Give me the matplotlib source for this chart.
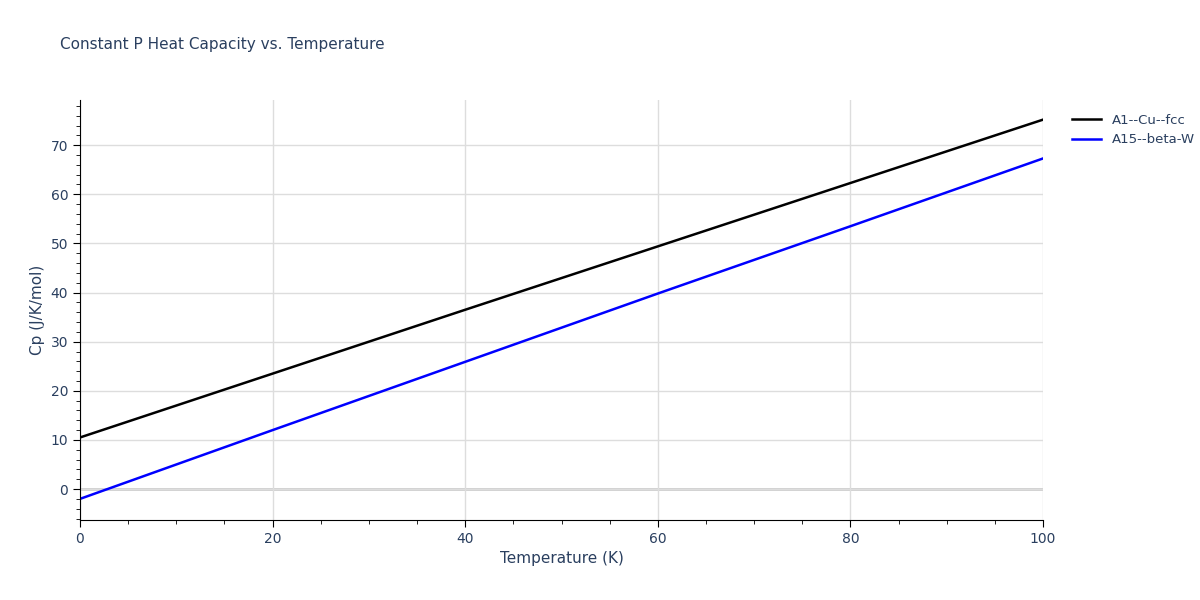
import matplotlib
matplotlib.use("Agg")
import matplotlib.pyplot as plt
from matplotlib.ticker import MultipleLocator

temps = [0, 20, 40, 60, 80, 100]
cu_fcc = [10.5, 23.5, 36.5, 49.4, 62.3, 75.2]
beta_w = [-2.0, 12.0, 25.9, 39.8, 53.5, 67.3]

fig = plt.figure(figsize=(12, 6), dpi=100)
ax = fig.add_axes([80/1200, 80/600, 963/1200, 420/600])
ax.plot(temps, cu_fcc, color="black", lw=1.8, label="A1--Cu--fcc")
ax.plot(temps, beta_w, color="blue", lw=1.8, label="A15--beta-W")
ax.set_xlim(0, 100)
ax.set_ylim(-6.3, 79.2)
ax.xaxis.set_major_locator(MultipleLocator(20))
ax.xaxis.set_minor_locator(MultipleLocator(5))
ax.yaxis.set_major_locator(MultipleLocator(10))
ax.yaxis.set_minor_locator(MultipleLocator(2))
ax.grid(True, which="major", color="#dddddd", lw=1)
ax.axhline(0, color="#cccccc", lw=2, zorder=1)
for s in ["top", "right"]:
    ax.spines[s].set_visible(False)
for s in ["left", "bottom"]:
    ax.spines[s].set_color("black")
tc = "#2a3f5f"
ax.tick_params(which="major", direction="out", length=5, colors="black", labelcolor=tc, labelsize=10)
ax.tick_params(which="minor", direction="out", length=3, colors="black")
ax.set_xlabel("Temperature (K)", color=tc, fontsize=11)
ax.set_ylabel("Cp (J/K/mol)", color=tc, fontsize=11)
fig.text(60/1200, 1-45/600, "Constant P Heat Capacity vs. Temperature", color=tc, fontsize=11, va="center")
leg = fig.legend(loc="upper left", bbox_to_anchor=(1060/1200, 1-102/600), frameon=False, fontsize=9.5, handlelength=2.2)
for t in leg.get_texts():
    t.set_color(tc)
fig.savefig("out.png", dpi=100)
